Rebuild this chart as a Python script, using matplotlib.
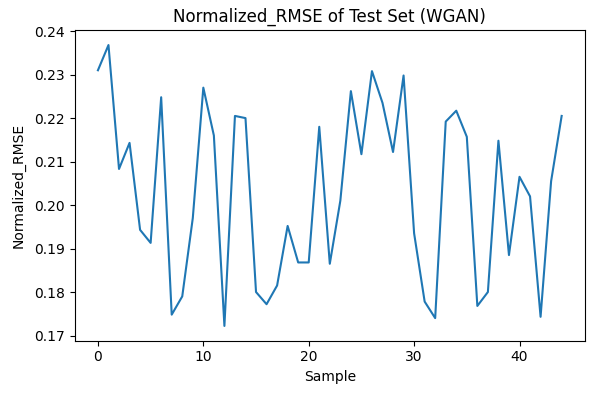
import matplotlib.pyplot as plt

samples = list(range(45))
rmse = [0.2310, 0.2368, 0.2083, 0.2143, 0.1943, 0.1913, 0.2248, 0.1748, 0.1790, 0.1970,
        0.2270, 0.2160, 0.1722, 0.2205, 0.2200, 0.1800, 0.1772, 0.1815, 0.1952, 0.1868,
        0.1868, 0.2180, 0.1865, 0.2010, 0.2262, 0.2117, 0.2308, 0.2235, 0.2122, 0.2298,
        0.1935, 0.1778, 0.1740, 0.2192, 0.2217, 0.2157, 0.1768, 0.1800, 0.2148, 0.1885,
        0.2065, 0.2020, 0.1743, 0.2055, 0.2205]

fig = plt.figure(figsize=(5.98, 3.93), dpi=100)
ax = fig.add_axes([0.125, 0.133, 0.853, 0.79])
ax.plot(samples, rmse, color='#1f77b4', linewidth=1.5)
ax.set_title('Normalized_RMSE of Test Set (WGAN)', fontsize=12)
ax.set_xlabel('Sample')
ax.set_ylabel('Normalized_RMSE', labelpad=6)
ax.set_yticks([0.17, 0.18, 0.19, 0.20, 0.21, 0.22, 0.23, 0.24])
ax.set_ylim(0.1688, 0.2402)
fig.savefig('out.png', dpi=100)
